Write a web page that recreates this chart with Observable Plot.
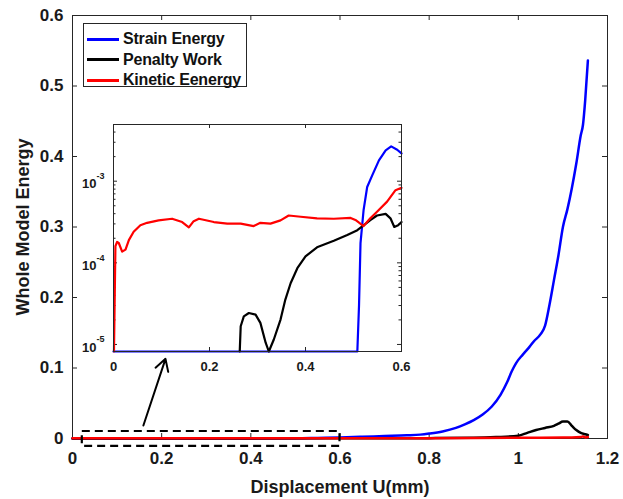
<!DOCTYPE html>
<html>
<head>
<meta charset="utf-8">
<script src="https://cdn.jsdelivr.net/npm/d3@7"></script>
<script src="https://cdn.jsdelivr.net/npm/@observablehq/plot@0.6"></script>
<style>
  body { margin: 0; background: #fff; }
  #wrap { position: relative; width: 623px; height: 499px; font-family: Arial, "Liberation Sans", sans-serif; }
  #inset { position: absolute; left: 68px; top: 119px; }
  #legend { position: absolute; left: 83px; top: 23px; width: 164px; height: 64px; border: 1px solid #262626; background: #fff; padding-top: 5px; box-sizing: border-box; }
  .row { display: flex; align-items: center; height: 20.5px; }
  .sw { width: 32px; height: 3px; margin-left: 3px; margin-right: 4px; }
  .lbl { font-weight: bold; font-size: 16px; color: #111; letter-spacing: -0.2px; }
</style>
</head>
<body>
<div id="wrap"></div>
<script>
// ---------- Data ----------
const seriesNames = ["Strain Energy", "Penalty Work", "Kinetic Eenergy"];
const seriesColors = ["#0000ff", "#000000", "#ff0000"];

// Main chart
const strainX = [0, 0.5, 0.55, 0.6, 0.65, 0.7, 0.75, 0.78, 0.8, 0.83, 0.86, 0.88, 0.9, 0.92, 0.94, 0.96, 0.975, 0.985, 0.995, 1.01, 1.025, 1.035, 1.05, 1.06, 1.07, 1.08, 1.09, 1.1, 1.11, 1.12, 1.13, 1.14, 1.145, 1.15, 1.156];
const strainY = [0, 0.0002, 0.0008, 0.0015, 0.0025, 0.0035, 0.0045, 0.0055, 0.007, 0.01, 0.015, 0.02, 0.026, 0.034, 0.045, 0.062, 0.08, 0.095, 0.107, 0.119, 0.13, 0.138, 0.148, 0.16, 0.19, 0.225, 0.26, 0.3, 0.325, 0.355, 0.39, 0.43, 0.445, 0.48, 0.536];

const penaltyX = [0, 0.6, 0.8, 0.9, 0.95, 1.0, 1.02, 1.04, 1.06, 1.08, 1.09, 1.1, 1.11, 1.12, 1.13, 1.14, 1.15, 1.156];
const penaltyY = [0, 0.0002, 0.0005, 0.001, 0.002, 0.004, 0.008, 0.012, 0.015, 0.018, 0.021, 0.024, 0.024, 0.018, 0.012, 0.008, 0.006, 0.005];

const kineticX = [0, 0.2, 0.4, 0.6, 0.8, 0.9, 1.0, 1.05, 1.1, 1.12, 1.14, 1.145, 1.15, 1.156];
const kineticY = [0.0003, 0.0003, 0.0003, 0.0004, 0.0005, 0.0007, 0.001, 0.0012, 0.0015, 0.0015, 0.002, 0.003, 0.0015, 0.002];

const xTicks = [0, 0.2, 0.4, 0.6, 0.8, 1, 1.2];
const yTicks = [0, 0.1, 0.2, 0.3, 0.4, 0.5, 0.6];

// Zoom box and arrow (data coordinates of the main chart)
const zoomBox = [{x1: 0.022, x2: 0.6, y1: -0.0113, y2: 0.0099}];
const zoomArrow = [{x1: 0.159, y1: 0.0184, x2: 0.2086, y2: 0.113}];

// Inset (log scale)
const insetStrainX = [0, 0.508, 0.5115, 0.5146, 0.521, 0.5285, 0.539, 0.553, 0.567, 0.5785, 0.591, 0.6];
const insetStrainY = [1e-7, 1e-7, 3e-5, 1.74e-4, 4.43e-4, 8.5e-4, 1.18e-3, 1.8e-3, 2.39e-3, 2.67e-3, 2.43e-3, 2.19e-3];

const insetPenaltyX = [0.263, 0.265, 0.2715, 0.282, 0.296, 0.306, 0.317, 0.3236, 0.334, 0.348, 0.358, 0.369, 0.383, 0.4, 0.424, 0.459, 0.487, 0.508, 0.521, 0.535, 0.549, 0.567, 0.577, 0.585, 0.593, 0.6];
const insetPenaltyY = [1e-7, 1.67e-5, 2.21e-5, 2.43e-5, 2.32e-5, 1.84e-5, 1.05e-5, 1e-7, 1.15e-5, 2.02e-5, 3.55e-5, 5.62e-5, 8.6e-5, 1.2e-4, 1.55e-4, 1.86e-4, 2.19e-4, 2.51e-4, 2.88e-4, 3.34e-4, 3.8e-4, 3.98e-4, 3.51e-4, 2.75e-4, 2.88e-4, 3.16e-4];

const insetKineticX = [0.001, 0.004, 0.0075, 0.011, 0.018, 0.025, 0.032, 0.042, 0.056, 0.07, 0.094, 0.122, 0.143, 0.157, 0.167, 0.178, 0.209, 0.237, 0.265, 0.292, 0.306, 0.327, 0.348, 0.365, 0.39, 0.424, 0.459, 0.494, 0.504, 0.521, 0.535, 0.549, 0.57, 0.5875, 0.6];
const insetKineticY = [1e-7, 1.6e-4, 1.8e-4, 1.75e-4, 1.37e-4, 1.45e-4, 1.9e-4, 2.4e-4, 2.88e-4, 3.09e-4, 3.31e-4, 3.47e-4, 3.16e-4, 2.72e-4, 3.24e-4, 3.47e-4, 3.16e-4, 3.02e-4, 3.02e-4, 2.82e-4, 3.09e-4, 3.02e-4, 3.31e-4, 3.8e-4, 3.67e-4, 3.51e-4, 3.47e-4, 3.55e-4, 3.35e-4, 2.82e-4, 3.51e-4, 4.23e-4, 5.62e-4, 7.76e-4, 8.3e-4];

const insetXTicks = [0, 0.2, 0.4, 0.6];
const insetYMajor = [1e-5, 1e-4, 1e-3];
const insetYMinor = [2e-5, 3e-5, 4e-5, 5e-5, 6e-5, 7e-5, 8e-5, 9e-5, 2e-4, 3e-4, 4e-4, 5e-4, 6e-4, 7e-4, 8e-4, 9e-4, 2e-3, 3e-3, 4e-3];

// ---------- Main chart ----------
const W = 623, H = 499, mL = 72, mR = 16, mT = 15, mB = 61;
const fw = W - mL - mR, fh = H - mT - mB;
const axisColor = "#262626";
const tk = 5;

const main = Plot.plot({
  width: W, height: H,
  marginLeft: mL, marginRight: mR, marginTop: mT, marginBottom: mB,
  x: {domain: [0, 1.2]},
  y: {domain: [0, 0.6]},
  style: {fontFamily: "Arial, 'Liberation Sans', sans-serif", fontWeight: "bold", fontSize: "17px", color: "#1a1a1a", background: "white", overflow: "visible"},
  marks: [
    Plot.frame({stroke: axisColor, strokeWidth: 1}),
    Plot.axisX(xTicks, {tickSize: 0, tickPadding: 13, tickFormat: d => String(d), label: null}),
    Plot.axisY(yTicks, {tickSize: 0, tickPadding: 9, tickFormat: d => String(d), label: null}),
    Plot.tickX(xTicks, {x: d => d, stroke: axisColor, insetTop: fh - tk}),
    Plot.tickX(xTicks, {x: d => d, stroke: axisColor, insetBottom: fh - tk}),
    Plot.tickY(yTicks, {y: d => d, stroke: axisColor, insetRight: fw - tk}),
    Plot.tickY(yTicks, {y: d => d, stroke: axisColor, insetLeft: fw - tk}),
    Plot.line(strainX, {x: strainX, y: strainY, stroke: seriesColors[0], strokeWidth: 2.5, curve: "monotone-x"}),
    Plot.line(penaltyX, {x: penaltyX, y: penaltyY, stroke: seriesColors[1], strokeWidth: 2.5, curve: "monotone-x"}),
    Plot.line(kineticX, {x: kineticX, y: kineticY, stroke: seriesColors[2], strokeWidth: 2.5}),
    Plot.rect(zoomBox, {x1: "x1", x2: "x2", y1: "y1", y2: "y2", fill: "none", stroke: "black", strokeWidth: 2.2, strokeDasharray: "8,5"}),
    Plot.arrow(zoomArrow, {x1: "x1", y1: "y1", x2: "x2", y2: "y2", stroke: "black", strokeWidth: 2, headLength: 10}),
    Plot.text(["Displacement U(mm)"], {frameAnchor: "bottom", dy: 54, fontSize: 18, fontWeight: "bold"}),
    Plot.text(["Whole Model Energy"], {frameAnchor: "left", dx: -49, rotate: -90, textAnchor: "middle", fontSize: 18, fontWeight: "bold"})
  ]
});

// ---------- Inset ----------
const iL = 45, iR = 5, iT = 5, iB = 25, ifw = 288, ifh = 227;
const itk = 4, itkm = 2.5;
const inset = Plot.plot({
  width: iL + ifw + iR, height: iT + ifh + iB,
  marginLeft: iL, marginRight: iR, marginTop: iT, marginBottom: iB,
  x: {domain: [0, 0.6]},
  y: {type: "log", domain: [8.2e-6, 4.95e-3], clamp: true},
  style: {fontFamily: "Arial, 'Liberation Sans', sans-serif", fontWeight: "bold", fontSize: "13px", color: "#1a1a1a", background: "transparent", overflow: "visible"},
  marks: [
    Plot.frame({fill: "white", stroke: "none"}),
    Plot.axisX(insetXTicks, {tickSize: 0, tickPadding: 10, tickFormat: d => String(d), label: null}),
    Plot.axisY([], {label: null}),
    Plot.tickX(insetXTicks, {x: d => d, stroke: axisColor, insetTop: ifh - itk}),
    Plot.tickX(insetXTicks, {x: d => d, stroke: axisColor, insetBottom: ifh - itk}),
    Plot.tickY(insetYMajor, {y: d => d, stroke: axisColor, insetRight: ifw - itk}),
    Plot.tickY(insetYMajor, {y: d => d, stroke: axisColor, insetLeft: ifw - itk}),
    Plot.tickY(insetYMinor, {y: d => d, stroke: axisColor, insetRight: ifw - itkm}),
    Plot.tickY(insetYMinor, {y: d => d, stroke: axisColor, insetLeft: ifw - itkm}),
    Plot.text(insetYMajor, {y: d => d, frameAnchor: "left", text: () => "10", textAnchor: "end", dx: -17, dy: 3, fontSize: 13, fontWeight: "bold"}),
    Plot.text(insetYMajor, {y: d => d, frameAnchor: "left", text: d => String(Math.round(Math.log10(d))), textAnchor: "start", dx: -17, dy: -5, fontSize: 9, fontWeight: "bold"}),
    Plot.line(insetStrainX, {x: insetStrainX, y: insetStrainY, stroke: seriesColors[0], strokeWidth: 2.2}),
    Plot.line(insetPenaltyX, {x: insetPenaltyX, y: insetPenaltyY, stroke: seriesColors[1], strokeWidth: 2.2}),
    Plot.line(insetKineticX, {x: insetKineticX, y: insetKineticY, stroke: seriesColors[2], strokeWidth: 2.2}),
    Plot.frame({stroke: axisColor, strokeWidth: 1})
  ]
});
inset.id = "inset";

// ---------- Legend ----------
const legend = document.createElement("div");
legend.id = "legend";
seriesNames.forEach((name, i) => {
  const row = document.createElement("div");
  row.className = "row";
  const sw = document.createElement("div");
  sw.className = "sw";
  sw.style.background = seriesColors[i];
  const lb = document.createElement("span");
  lb.className = "lbl";
  lb.textContent = name;
  row.append(sw, lb);
  legend.append(row);
});

const wrap = document.getElementById("wrap");
wrap.append(main, inset, legend);
</script>
</body>
</html>
